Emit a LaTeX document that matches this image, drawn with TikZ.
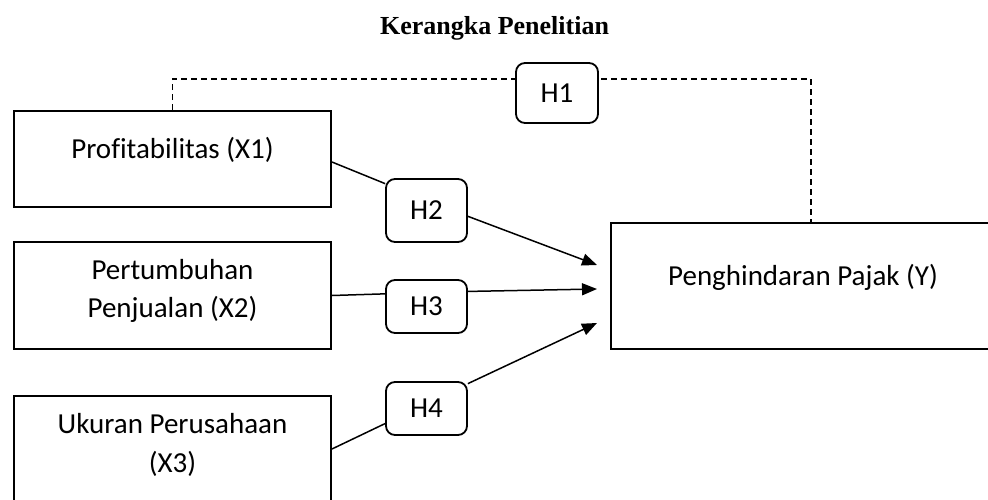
\documentclass[tikz,border=0pt]{standalone}
\usepackage{fontspec}
\setmainfont{Carlito}[Ligatures=CommonOff]
\newfontfamily\titlefont{Liberation Serif}
\usetikzlibrary{arrows.meta}
\begin{document}
\begin{tikzpicture}[x=1pt,y=-1pt,
  varbox/.style={draw, line width=1.9pt, minimum width=317pt, inner sep=0pt},
  hbox/.style={draw, fill=white, rounded corners=9pt, line width=1.8pt, minimum width=81pt, inner sep=0pt, font=\fontsize{29}{35}\selectfont},
  txt/.style={font=\fontsize{29}{35}\selectfont, anchor=base, inner sep=0pt},
  conn/.style={line width=1.5pt},
  arr/.style={conn, -{Triangle[length=15pt,width=12pt]}},
  dline/.style={line width=1.5pt, dash pattern=on 6pt off 4pt}]
\useasboundingbox (0,0) rectangle (988,500);
\clip (0,0) rectangle (988,500);

\node[font=\fontsize{26}{30}\selectfont\titlefont\bfseries, anchor=base, inner sep=0pt] (title) at (494.5,35) {Kerangka Penelitian};

\node[varbox, minimum height=96pt] (x1) at (172.5,159) {};
\node[varbox, minimum height=107pt] (x2) at (172.5,295.5) {};
\node[varbox, minimum height=124pt] (x3) at (172.5,458) {};
\node[draw, line width=1.9pt, minimum width=400pt, minimum height=126pt, inner sep=0pt] (y) at (811,286) {};

\node[txt] (x1t) at (172.5,158) {Profitabilitas (X1)};
\node[txt] (x2ta) at (172.5,279) {Pertumbuhan};
\node[txt] (x2tb) at (172.5,317) {Penjualan (X2)};
\node[txt] (x3ta) at (172.5,433) {Ukuran Perusahaan};
\node[txt] (x3tb) at (172.5,472) {(X3)};
\node[txt] (yt) at (803,285) {Penghindaran Pajak (Y)};

\node[hbox, minimum height=63pt] (h2) at (426.5,210.5) {H2};
\node[hbox, minimum height=53pt] (h3) at (426.5,306.5) {H3};
\node[hbox, minimum height=53pt] (h4) at (426.5,408.5) {H4};

\coordinate (t1) at (597,265);
\coordinate (t2) at (597,289);
\coordinate (t3) at (597,323);
\coordinate (bend) at (172.5,79);

\draw[conn] ([yshift=-3pt]x1.east) -- (h2.147);
\draw[arr] (h2.-8) -- (t1);
\draw[conn] (x2.east) -- (h3.163);
\draw[arr] (h3.20) -- (t2);
\draw[conn] ([yshift=9pt]x3.east) -- (h4.-160);
\draw[arr] (h4.31) -- (t3);

\draw[dline] (x1.north) -- (bend) -| (y.north);
\node[hbox, minimum width=82pt, minimum height=60pt] (h1) at (557,93) {H1};
\end{tikzpicture}
\end{document}
